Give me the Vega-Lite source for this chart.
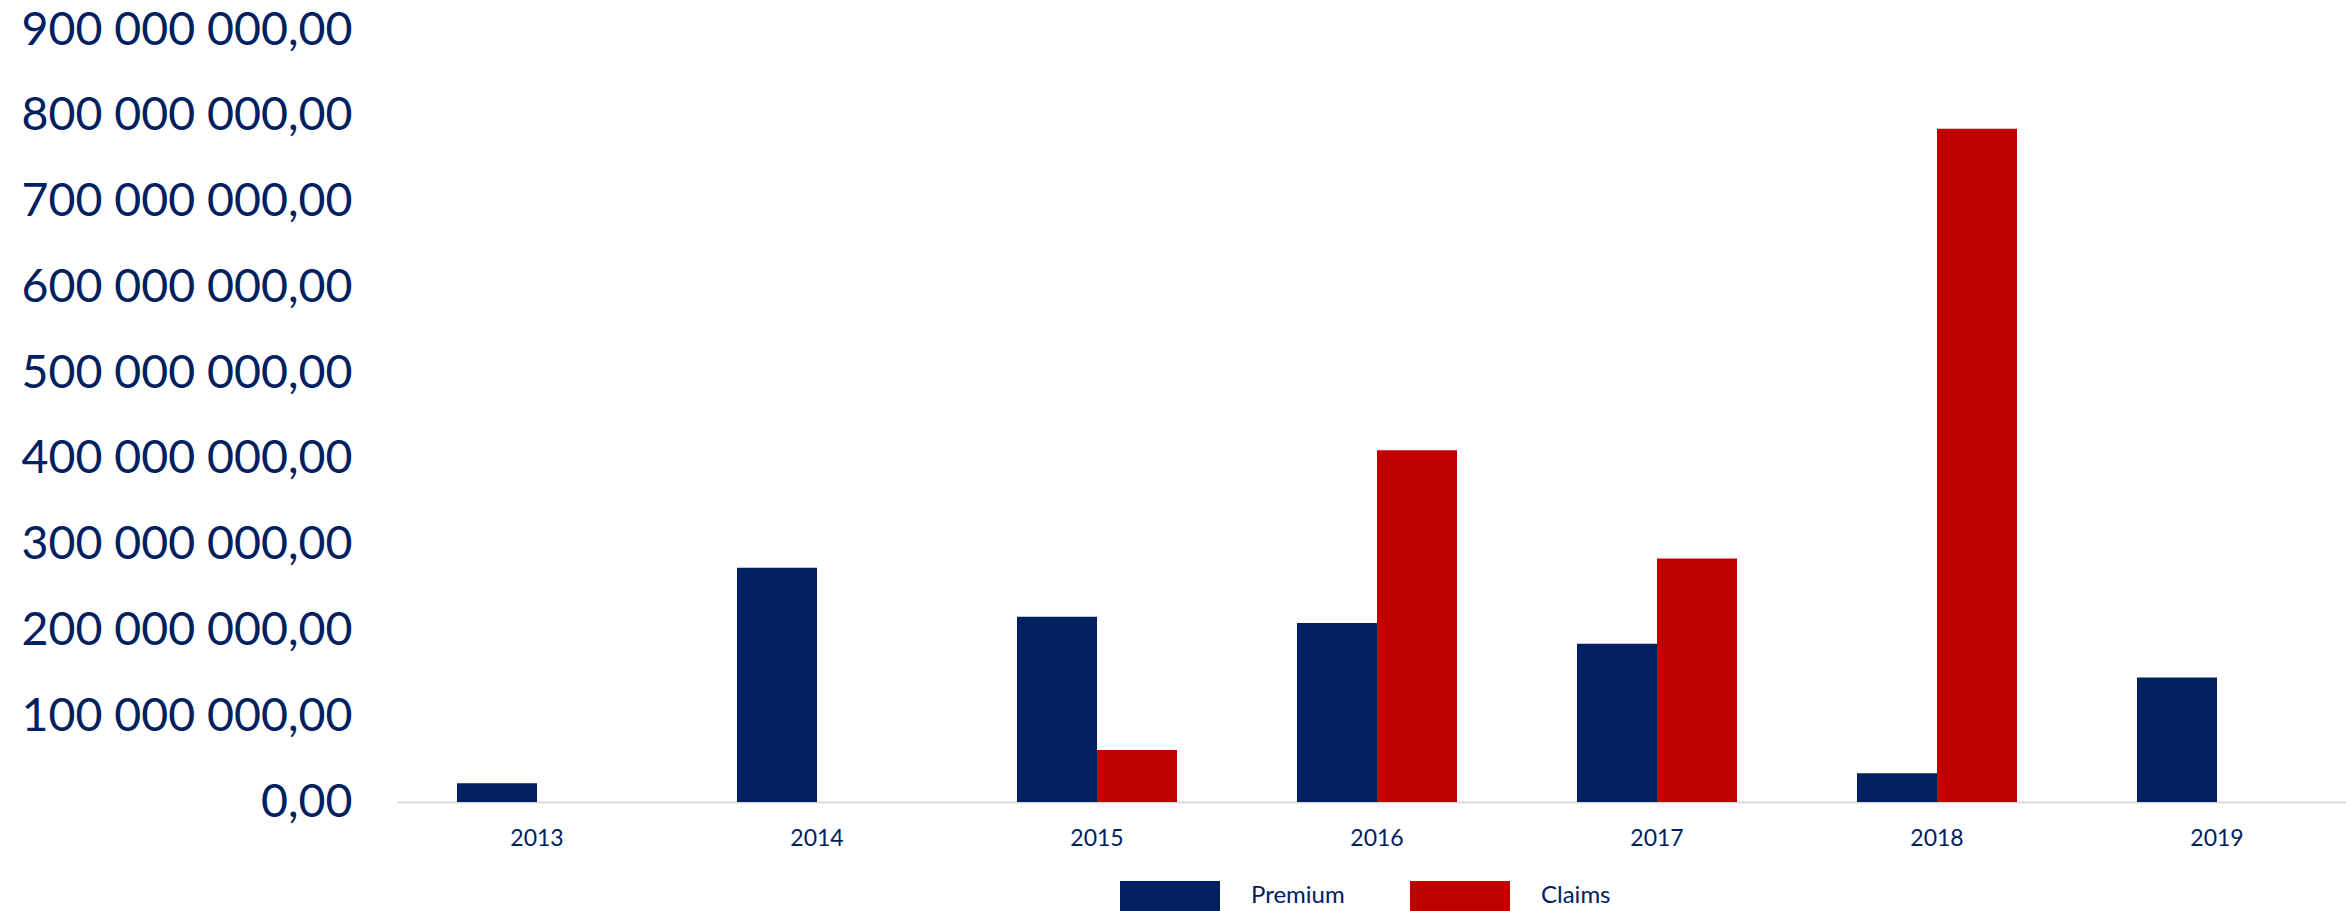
{
  "$schema": "https://vega.github.io/schema/vega-lite/v6.json",
  "width": 1949,
  "height": 772,
  "autosize": {"type": "none"},
  "padding": {"left": 397, "top": 30, "right": 0, "bottom": 109},
  "background": "white",
  "config": {
    "view": {"stroke": null},
    "font": "Lato",
    "locale": {"number": {"decimal": ",", "thousands": " ", "grouping": [3], "currency": ["", ""]}}
  },
  "data": {
    "values": [
      {"year": "2013", "series": "Premium", "value": 21800000},
      {"year": "2014", "series": "Premium", "value": 273000000},
      {"year": "2015", "series": "Premium", "value": 216000000},
      {"year": "2015", "series": "Claims", "value": 60600000},
      {"year": "2016", "series": "Premium", "value": 208600000},
      {"year": "2016", "series": "Claims", "value": 410000000},
      {"year": "2017", "series": "Premium", "value": 184500000},
      {"year": "2017", "series": "Claims", "value": 284000000},
      {"year": "2018", "series": "Premium", "value": 33400000},
      {"year": "2018", "series": "Claims", "value": 785000000},
      {"year": "2019", "series": "Premium", "value": 145000000}
    ]
  },
  "mark": {"type": "bar"},
  "encoding": {
    "x": {
      "field": "year",
      "type": "nominal",
      "sort": ["2013", "2014", "2015", "2016", "2017", "2018", "2019"],
      "scale": {"range": [0, 1960], "paddingInner": 0.4286, "paddingOuter": 0.2143},
      "axis": {
        "title": null,
        "labelAngle": 0,
        "labelFontSize": 23,
        "labelColor": "#002060",
        "labelPadding": 25,
        "labelDx": 4,
        "ticks": false,
        "tickSize": 0,
        "domainColor": "#d9d9d9",
        "domainWidth": 2,
        "grid": false
      }
    },
    "xOffset": {
      "field": "series",
      "type": "nominal",
      "sort": ["Premium", "Claims"],
      "scale": {"paddingInner": 0, "paddingOuter": 0}
    },
    "y": {
      "field": "value",
      "type": "quantitative",
      "scale": {"domain": [0, 900000000], "nice": false, "zero": true},
      "axis": {
        "title": null,
        "values": [0, 100000000, 200000000, 300000000, 400000000, 500000000, 600000000, 700000000, 800000000, 900000000],
        "format": ",.2f",
        "labelFontSize": 46.5,
        "labelLimit": 0,
        "labelColor": "#002060",
        "labelPadding": 45,
        "ticks": false,
        "tickSize": 0,
        "domain": false,
        "grid": false
      }
    },
    "color": {
      "field": "series",
      "type": "nominal",
      "sort": ["Premium", "Claims"],
      "scale": {"domain": ["Premium", "Claims"], "range": ["#002060", "#C00000"]},
      "legend": {
        "title": null,
        "orient": "none",
        "direction": "horizontal",
        "legendX": 723,
        "legendY": 816,
        "symbolType": "M-1,-0.3H1V0.3H-1Z",
        "symbolSize": 10000,
        "symbolStrokeWidth": 0,
        "labelFontSize": 24,
        "labelColor": "#002060",
        "labelOffset": 31,
        "columnPadding": 65
      }
    }
  }
}
